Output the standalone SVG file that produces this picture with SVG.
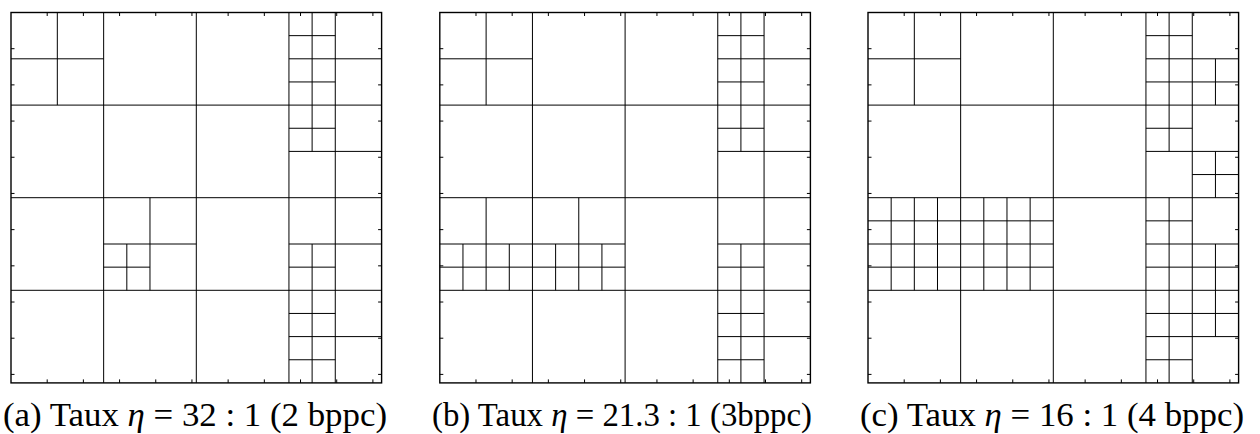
<svg xmlns="http://www.w3.org/2000/svg" xmlns:xlink="http://www.w3.org/1999/xlink" width="1260" height="434" viewBox="0 0 1260 434">
<style>
.frame{fill:none;stroke:#000;stroke-width:1.4}
.tick{fill:none;stroke:#000;stroke-width:1}
.qt{fill:none;stroke:#000;stroke-width:1;vector-effect:non-scaling-stroke}
.cap{font-family:"Liberation Serif","DejaVu Serif",serif;font-size:33px;fill:#000}
.m{font-style:italic}
</style>
<defs>
<g id="frame">
<rect class="frame" x="0" y="0" width="370.6" height="370.4"/>
<path class="tick" d="M36.19 0v3.5M72.38 0v3.5M108.57 0v3.5M144.76 0v3.5M180.95 0v3.5M217.14 0v3.5M253.33 0v3.5M289.52 0v3.5M325.71 0v3.5M361.9 0v3.5
M36.19 370.4v-3.5M72.38 370.4v-3.5M108.57 370.4v-3.5M144.76 370.4v-3.5M180.95 370.4v-3.5M217.14 370.4v-3.5M253.33 370.4v-3.5M289.52 370.4v-3.5M325.71 370.4v-3.5M361.9 370.4v-3.5
M0 36.19h3.5M0 72.38h3.5M0 108.57h3.5M0 144.76h3.5M0 180.95h3.5M0 217.14h3.5M0 253.33h3.5M0 289.52h3.5M0 325.71h3.5M0 361.9h3.5
M370.6 36.19h-3.5M370.6 72.38h-3.5M370.6 108.57h-3.5M370.6 144.76h-3.5M370.6 180.95h-3.5M370.6 217.14h-3.5M370.6 253.33h-3.5M370.6 289.52h-3.5M370.6 325.71h-3.5M370.6 361.9h-3.5"/>
</g>
<path id="common" class="qt" d="M2 0V8M4 0V8M6 0V8M7 0V8M0 2H8M0 4H8M0 6H8M1 0V2M0 1H2M6 1H8M6 3H8M6 5H8M6 7H8"/>
</defs>

<g id="panel-a" transform="translate(11,12.5)">
<g transform="scale(46.325 46.3)">
<use xlink:href="#common" href="#common"/>
<path class="qt" d="M6.5 0V3M6 0.5H7M6 1.5H7M6 2.5H7M6.5 5V8M6 5.5H7M6 6.5H7M6 7.5H7M3 4V6M2 5H4M2.5 5V6M2 5.5H3"/>
</g>
<use xlink:href="#frame" href="#frame"/>
</g>

<g id="panel-b" transform="translate(439.8,12.5)">
<g transform="scale(46.325 46.3)">
<use xlink:href="#common" href="#common"/>
<path class="qt" d="M6.5 0V3M6 0.5H7M6 1.5H7M6 2.5H7M6.5 5V8M6 5.5H7M6 6.5H7M6 7.5H7M1 4V6M3 4V6M0 5H4M0.5 5V6M1.5 5V6M2.5 5V6M3.5 5V6M0 5.5H4"/>
</g>
<use xlink:href="#frame" href="#frame"/>
</g>

<g id="panel-c" transform="translate(868,12.5)">
<g transform="scale(46.325 46.3)">
<use xlink:href="#common" href="#common"/>
<path class="qt" d="M6.5 0V3M6.5 4V8M6 0.5H7M6 1.5H7M6 2.5H7M6 4.5H7M6 5.5H7M6 6.5H7M6 7.5H7M7.5 1V2M7 1.5H8M7.5 3V4M7 3.5H8M7.5 5V7M7 5.5H8M7 6.5H8M0.5 4V6M1 4V6M1.5 4V6M2.5 4V6M3 4V6M3.5 4V6M0 4.5H4M0 5H4M0 5.5H4"/>
</g>
<use xlink:href="#frame" href="#frame"/>
</g>

<g id="captions">
<text class="cap" x="3" y="425.5" textLength="384" lengthAdjust="spacingAndGlyphs">(a) Taux <tspan class="m">η</tspan> = 32 : 1 (2 bppc)</text>
<text class="cap" x="432" y="425.5" textLength="380" lengthAdjust="spacingAndGlyphs">(b) Taux <tspan class="m">η</tspan> = 21.3 : 1 (3bppc)</text>
<text class="cap" x="860" y="425.5" textLength="384" lengthAdjust="spacingAndGlyphs">(c) Taux <tspan class="m">η</tspan> = 16 : 1 (4 bppc)</text>
</g>
</svg>
